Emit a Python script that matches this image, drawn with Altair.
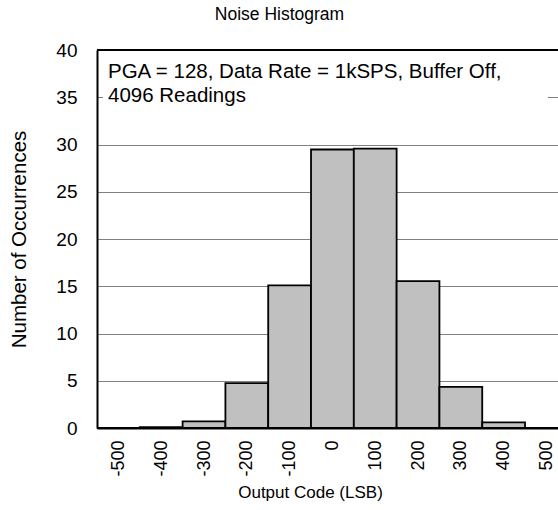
import altair as alt
import pandas as pd

bin_centers = [-500, -400, -300, -200, -100, 0, 100, 200, 300, 400, 500]
occurrences = [0.0, 0.1, 0.7, 4.75, 15.1, 29.47, 29.57, 15.55, 4.35, 0.6, 0.0]
x_ticks = [-500, -400, -300, -200, -100, 0, 100, 200, 300, 400, 500]
y_ticks = [0, 5, 10, 15, 20, 25, 30, 35, 40]
note = "PGA = 128, Data Rate = 1kSPS, Buffer Off,\n4096 Readings"

df = pd.DataFrame({
    "center": bin_centers,
    "start": [c - 50 for c in bin_centers],
    "end": [c + 50 for c in bin_centers],
    "count": occurrences,
})

FONT = "Liberation Sans"
xscale = alt.Scale(domain=[-550, 527], nice=False, zero=False)
yscale = alt.Scale(domain=[0, 40], nice=False)

bars = alt.Chart(df).mark_rect(
    fill="#c0c0c0", stroke="black", strokeWidth=1.8
).encode(
    x=alt.X("start:Q", scale=xscale,
            axis=alt.Axis(values=x_ticks, title="Output Code (LSB)", labelAngle=270,
                          labelExpr="'' + datum.value",
                          grid=False, ticks=False, domainColor="black", domainWidth=2,
                          labelPadding=12, labelFontSize=18, labelColor="black",
                          titleFontSize=17, titleFontWeight="normal", titleColor="black",
                          titlePadding=8, labelFont=FONT, titleFont=FONT,
                          titleX=213)),
    x2="end:Q",
    y=alt.Y("count:Q", scale=yscale,
            axis=alt.Axis(values=y_ticks, title="Number of Occurrences",
                          grid=True, gridColor="#808080", gridWidth=1,
                          ticks=False, domainColor="black", domainWidth=2,
                          labelPadding=20, labelFontSize=19, labelColor="black",
                          titleFontSize=20.5, titleFontWeight="normal", titleColor="black",
                          titlePadding=26, labelFont=FONT, titleFont=FONT)),
    y2=alt.datum(0),
)

top = alt.Chart(pd.DataFrame({"y": [40]})).mark_rule(color="black", strokeWidth=2).encode(
    y=alt.Y("y:Q", scale=yscale)
)

box = alt.Chart(pd.DataFrame({"a": [0]})).mark_rect(fill="white", stroke=None).encode(
    x=alt.value(6), x2=alt.value(451), y=alt.value(5), y2=alt.value(62)
)

text = alt.Chart(pd.DataFrame({"t": [note]})).mark_text(
    align="left", baseline="top", lineBreak="\n", fontSize=20.5, lineHeight=24,
    font=FONT, color="black"
).encode(x=alt.value(11), y=alt.value(12), text="t:N")

chart = alt.layer(bars, box, text, top).properties(
    width=461, height=378,
    title=alt.TitleParams("Noise Histogram", fontSize=17.5, fontWeight="normal",
                          font=FONT, color="black", anchor="middle", dx=-48, offset=18),
    autosize=alt.AutoSizeParams(type="none"),
    padding={"left": 97, "top": 50, "right": 0, "bottom": 82},
).configure_view(stroke=None).configure(background="white")

chart.save("out.html", embed_options={"renderer": "svg", "actions": False})
